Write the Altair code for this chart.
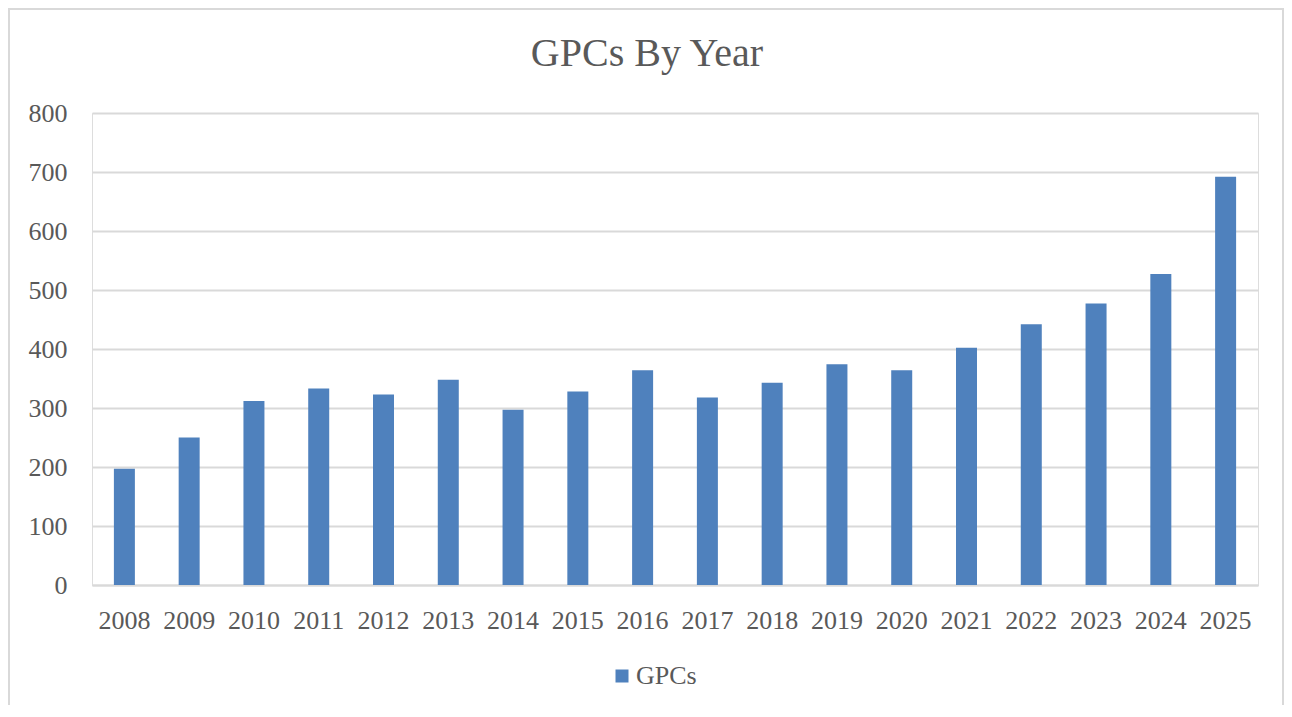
import altair as alt
import pandas as pd

years = ["2008", "2009", "2010", "2011", "2012", "2013", "2014", "2015", "2016",
         "2017", "2018", "2019", "2020", "2021", "2022", "2023", "2024", "2025"]
gpcs = [197, 250, 312, 333, 323, 348, 297, 328, 364, 318, 343, 374, 364, 402, 442, 477, 527, 692]
series = ["GPCs"] * len(years)
y_ticks = [0, 100, 200, 300, 400, 500, 600, 700, 800]

df = pd.DataFrame({"Year": years, "GPCs": gpcs, "Series": series})

FONT = "Liberation Serif"
TXT = "#595959"
GRID = "#d9d9d9"

bars = alt.Chart(df).mark_bar(size=21).encode(
    x=alt.X("Year:N", sort=years,
            scale=alt.Scale(paddingInner=0, paddingOuter=0),
            axis=alt.Axis(title=None, labelAngle=0, ticks=False, domainColor=GRID,
                          domainWidth=2, labelFont=FONT, labelFontSize=26,
                          labelColor=TXT, labelPadding=22)),
    y=alt.Y("GPCs:Q", scale=alt.Scale(domain=[0, 800], nice=False),
            axis=alt.Axis(title=None, values=y_ticks, ticks=False, domain=False,
                          gridColor=GRID, gridWidth=2, labelFont=FONT,
                          labelFontSize=26, labelColor=TXT, labelPadding=25)),
    color=alt.Color("Series:N", scale=alt.Scale(range=["#4f81bd"]),
                    legend=alt.Legend(title=None, orient="none", legendX=517, legendY=550,
                                      symbolType="square", symbolSize=169,
                                      symbolStrokeWidth=0, labelFont=FONT,
                                      labelFontSize=26, labelColor=TXT, labelOffset=1)),
)

frame = alt.Chart(df).mark_rect(fill=None, stroke=GRID, strokeWidth=2).encode(
    x=alt.value(-83), x2=alt.value(1191), y=alt.value(-104), y2=alt.value(700)
)

chart = alt.layer(frame, bars).properties(
    width=1166,
    height=472,
    title=alt.Title("GPCs By Year", font=FONT, fontSize=40, color=TXT,
                    fontWeight="normal", anchor="middle", frame="group", dx=-28,
                    offset=-98, baseline="alphabetic"),
    autosize=alt.AutoSizeParams(type="none"),
    padding={"left": 84, "top": 105, "right": 26, "bottom": 120},
).configure_view(stroke=None).configure(background="white")

chart.save("out.html", embed_options={"renderer": "svg", "actions": False})
